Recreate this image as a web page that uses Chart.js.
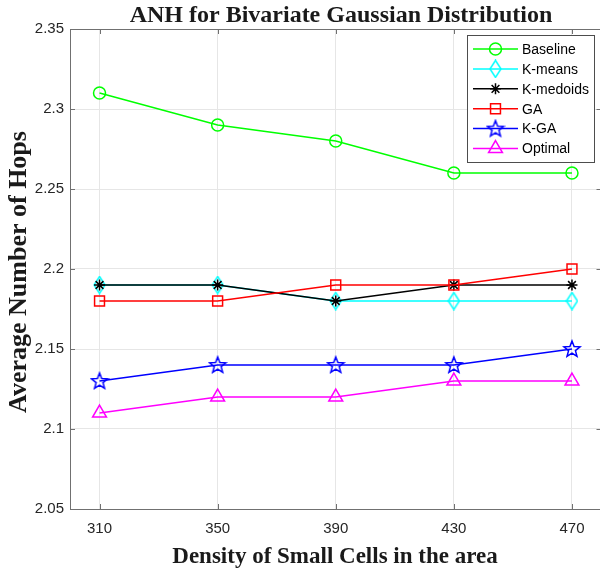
<!DOCTYPE html>
<html>
<head>
<meta charset="utf-8">
<script src="https://cdn.jsdelivr.net/npm/chart.js@4.4.0/dist/chart.umd.min.js"></script>
<style>
    html, body { margin: 0; padding: 0; background: #fff; overflow: hidden; width: 600px; height: 574px; }
</style>
</head>
<body>
<canvas id="grafico-anh" width="611" height="574"></canvas>
<script>
// datos
const densidades = [310, 350, 390, 430, 470];
const baseline = [2.31, 2.29, 2.28, 2.26, 2.26];
const kMeans = [2.19, 2.19, 2.18, 2.18, 2.18];
const kMedoids = [2.19, 2.19, 2.18, 2.19, 2.19];
const ga = [2.18, 2.18, 2.19, 2.19, 2.20];
const kGa = [2.13, 2.14, 2.14, 2.14, 2.15];
const optimal = [2.11, 2.12, 2.12, 2.13, 2.13];
const xTicks = [310, 350, 390, 430, 470];
const yTicks = [2.05, 2.1, 2.15, 2.2, 2.25, 2.3, 2.35];

const titulo = 'ANH for Bivariate Gaussian Distribution';
const tituloX = 'Density of Small Cells in the area';
const tituloY = 'Average Number of Hops';

// marcadores que Chart.js no trae (diamante alto y estrella de 5 puntas)
const crearDiamante = (color) => {
    const c = document.createElement('canvas');
    c.width = 13; c.height = 19;
    const g = c.getContext('2d');
    g.strokeStyle = color; g.lineWidth = 1.5;
    g.beginPath();
    g.moveTo(6.5, 1); g.lineTo(12, 9.5); g.lineTo(6.5, 18); g.lineTo(1, 9.5); g.closePath();
    g.stroke();
    return c;
};
const crearEstrella = (color) => {
    const c = document.createElement('canvas');
    c.width = 20; c.height = 20;
    const g = c.getContext('2d');
    g.strokeStyle = color; g.lineWidth = 1.5;
    g.beginPath();
    for (let i = 0; i < 10; i++) {
        const r = i % 2 === 0 ? 8.5 : 3.6;
        const ang = -Math.PI / 2 + i * Math.PI / 5;
        const px = 10 + r * Math.cos(ang), py = 10.5 + r * Math.sin(ang);
        if (i === 0) g.moveTo(px, py); else g.lineTo(px, py);
    }
    g.closePath();
    g.stroke();
    return c;
};

const serie = (label, valores, color, pointStyle, radio) => ({
    label,
    data: densidades.map((d, i) => ({ x: d, y: valores[i] })),
    borderColor: color,
    backgroundColor: 'rgba(0,0,0,0)',
    pointBorderColor: color,
    pointBackgroundColor: 'rgba(0,0,0,0)',
    borderWidth: 1.5,
    pointBorderWidth: 1.5,
    pointStyle,
    pointRadius: radio,
    pointHoverRadius: radio,
    tension: 0
});

const datasets = [
    serie('Baseline', baseline, '#00ff00', 'circle', 6),
    serie('K-means', kMeans, '#00ffff', crearDiamante('#00ffff'), 7),
    serie('K-medoids', kMedoids, '#000000', 'star', 5.5),
    serie('GA', ga, '#ff0000', 'rect', 7),
    serie('K-GA', kGa, '#0000ff', crearEstrella('#0000ff'), 8),
    serie('Optimal', optimal, '#ff00ff', 'triangle', 8)
];
datasets.forEach((ds, i) => ds.order = -i);

const fmt = (v) => String(+v.toFixed(2));

const marcoPlugin = {
    id: 'marco',
    afterDraw(chart) {
        const { ctx, chartArea: a, scales: { x, y } } = chart;
        ctx.save();

        // caja y ticks hacia adentro (estilo matlab)
        ctx.strokeStyle = '#707070';
        ctx.lineWidth = 1;
        ctx.beginPath();
        xTicks.forEach(v => {
            const px = Math.round(x.getPixelForValue(v)) + 0.5;
            ctx.moveTo(px, a.bottom); ctx.lineTo(px, a.bottom - 5);
            ctx.moveTo(px, a.top); ctx.lineTo(px, a.top + 5);
        });
        yTicks.forEach(v => {
            const py = Math.round(y.getPixelForValue(v)) + 0.5;
            ctx.moveTo(a.left, py); ctx.lineTo(a.left + 5, py);
            ctx.moveTo(a.right, py); ctx.lineTo(a.right - 5, py);
        });
        ctx.stroke();
        ctx.strokeRect(Math.round(a.left) + 0.5, Math.round(a.top) + 0.5, a.width, a.height);

        // leyenda
        const lx = 467, ly = 35, lw = 127, lh = 127;
        ctx.fillStyle = '#ffffff';
        ctx.fillRect(lx, ly, lw, lh);
        ctx.strokeStyle = '#4d4d4d';
        ctx.strokeRect(lx + 0.5, ly + 0.5, lw, lh);
        ctx.font = '14px "Liberation Sans", Arial, sans-serif';
        ctx.textBaseline = 'middle';
        ctx.textAlign = 'left';
        chart.data.datasets.forEach((ds, i) => {
            const yy = 49 + i * 19.9;
            ctx.strokeStyle = ds.borderColor;
            ctx.lineWidth = 1.5;
            ctx.beginPath();
            ctx.moveTo(473, yy); ctx.lineTo(518, yy);
            ctx.stroke();
            ctx.fillStyle = 'rgba(0,0,0,0)';
            Chart.helpers.drawPoint(ctx, {
                pointStyle: ds.pointStyle, radius: ds.pointRadius, rotation: 0, borderWidth: 1.5
            }, 495.5, yy);
            ctx.fillStyle = '#000';
            ctx.fillText(ds.label, 522, yy + 1);
        });

        // titulos
        ctx.fillStyle = '#1a1a1a';
        ctx.textAlign = 'center';
        ctx.textBaseline = 'alphabetic';
        ctx.font = 'bold 24px "Liberation Serif", "Times New Roman", serif';
        ctx.fillText(titulo, 341, 22);
        ctx.font = 'bold 23px "Liberation Serif", "Times New Roman", serif';
        ctx.fillText(tituloX, 335, 563);
        ctx.translate(26, 272);
        ctx.rotate(-Math.PI / 2);
        ctx.font = 'bold 26px "Liberation Serif", "Times New Roman", serif';
        ctx.fillText(tituloY, 0, 0);
        ctx.restore();
    }
};

new Chart(document.getElementById('grafico-anh').getContext('2d'), {
    type: 'line',
    data: { datasets },
    options: {
        responsive: false,
        animation: false,
        layout: { padding: { top: 29, right: 0, left: 0, bottom: 0 } },
        plugins: { legend: { display: false }, title: { display: false }, tooltip: { enabled: false } },
        scales: {
            x: {
                type: 'linear',
                min: 300,
                max: 480,
                afterBuildTicks: (s) => { s.ticks = xTicks.map(v => ({ value: v })); },
                afterFit: (s) => { s.height = 65; },
                grid: { color: '#e6e6e6', drawTicks: false },
                border: { display: false },
                ticks: { color: '#262626', padding: 11, font: { family: '"Liberation Sans", Arial, sans-serif', size: 15 }, maxRotation: 0 }
            },
            y: {
                min: 2.05,
                max: 2.35,
                afterBuildTicks: (s) => { s.ticks = yTicks.map(v => ({ value: v })); },
                afterFit: (s) => { s.width = 70; },
                grid: { color: '#e6e6e6', drawTicks: false },
                border: { display: false },
                ticks: { color: '#262626', padding: 6, font: { family: '"Liberation Sans", Arial, sans-serif', size: 15 }, callback: (v) => fmt(v) }
            }
        }
    },
    plugins: [marcoPlugin]
});
</script>
</body>
</html>
